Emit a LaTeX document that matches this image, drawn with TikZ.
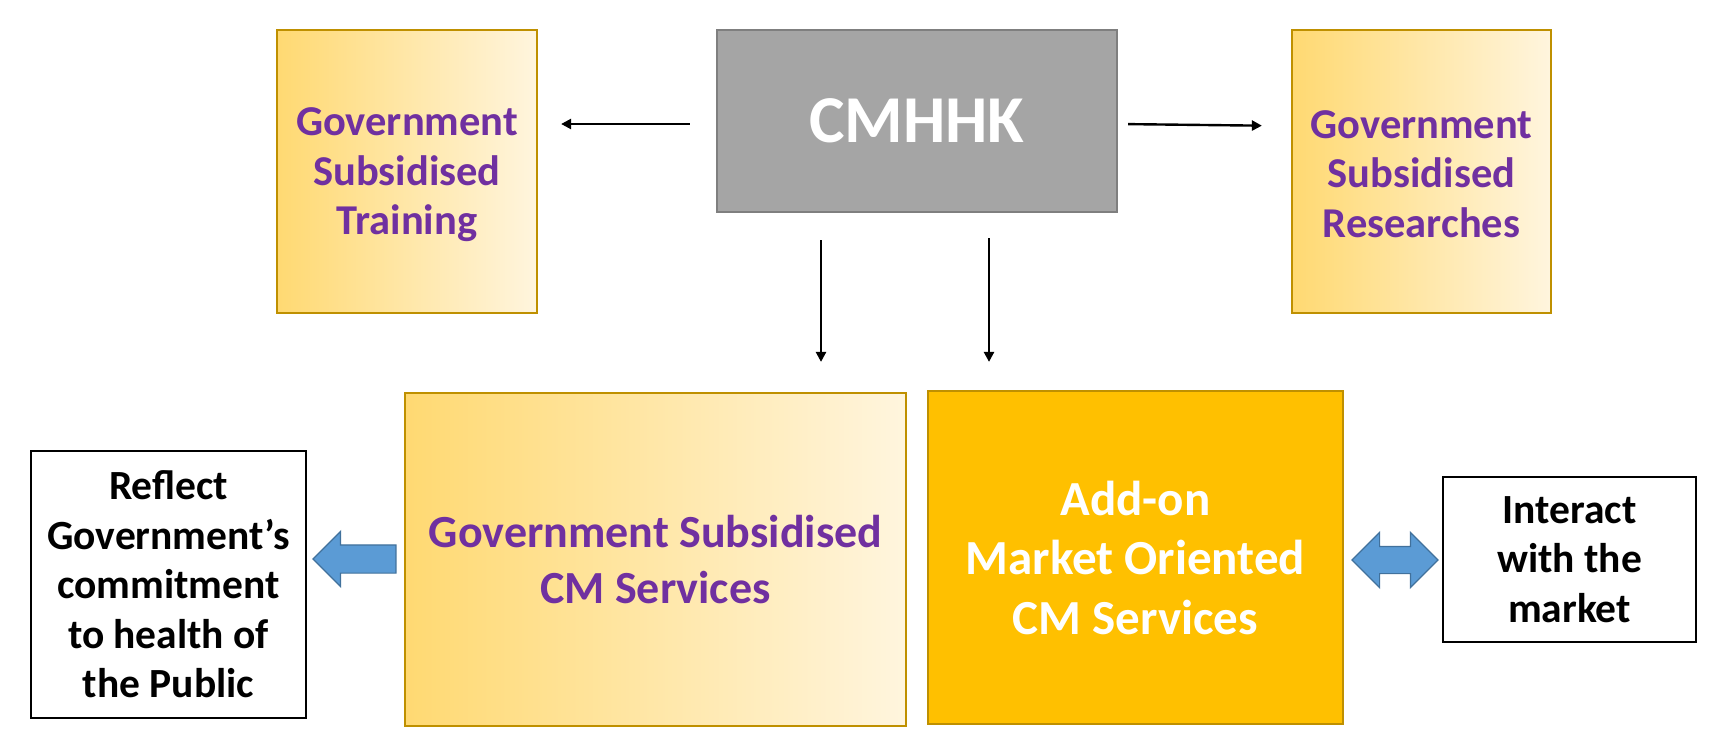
\documentclass[tikz,border=0pt]{standalone}
\usepackage{fontspec}
\setmainfont{Carlito}
\usetikzlibrary{arrows.meta,shapes.arrows}
\definecolor{purp}{HTML}{7030A0}
\definecolor{gradL}{HTML}{FFD972}
\definecolor{gradR}{HTML}{FFF5DE}
\definecolor{goldB}{HTML}{BF9000}
\definecolor{addon}{HTML}{FFC000}
\definecolor{grayF}{HTML}{A5A5A5}
\definecolor{grayB}{HTML}{7F7F7F}
\definecolor{blueF}{HTML}{5B9BD5}
\definecolor{blueB}{HTML}{41719C}
\tikzset{
  gradbox/.style={draw=goldB, line width=2.2pt, left color=gradL, right color=gradR,
    inner sep=0pt, align=center, text=purp, font=\bfseries\fontsize{42.5}{49.5}\selectfont},
  whitebox/.style={draw=black, line width=2.6pt, fill=white, inner sep=0pt, align=center,
    text=black, font=\bfseries\fontsize{41.5}{49.5}\selectfont},
  conn/.style={line width=2.4pt, -{Triangle[length=10pt,width=10pt]}},
  blockarr/.style={draw=blueB, fill=blueF, line width=1.2pt, inner sep=0pt}
}
\begin{document}
\begin{tikzpicture}[x=1pt,y=-1pt]
\useasboundingbox (0,0) rectangle (1728,753);
% top row
\node[draw=grayB, fill=grayF, line width=2.4pt, minimum width=400pt, minimum height=182pt,
  inner sep=0pt, text=white, font=\bfseries\fontsize{67}{80}\selectfont] (cm) at (917,121) {CMHHK};
\node[gradbox, minimum width=260pt, minimum height=283pt] (train) at (407,171.5) {};
\node[text=purp, align=center, font=\bfseries\fontsize{42.5}{49.5}\selectfont] (traint) at ([yshift=-3.5pt]train.center)
  {Government\\Subsidised\\Training};
\node[gradbox, minimum width=259pt, minimum height=283pt] (res) at (1421.5,171.5) {};
\node[text=purp, align=center, font=\bfseries\fontsize{42.5}{49.5}\selectfont] (rest) at ([yshift=-2.5pt]res.center)
  {Government\\Subsidised\\Researches};
% bottom row
\node[gradbox, minimum width=501pt, minimum height=333pt,
  font=\bfseries\fontsize{46}{56}\selectfont] (gcm) at (655.5,559.5)
  {Government Subsidised\\CM Services};
\node[draw=goldB, fill=addon, line width=2.2pt, minimum width=415pt, minimum height=333pt,
  inner sep=0pt, align=center, text=white, font=\bfseries\fontsize{49}{59.5}\selectfont] (add) at (1135.5,557.5)
  {Add-on\\Market Oriented\\CM Services};
\node[whitebox, minimum width=275pt, minimum height=267pt] (refl) at (168.5,584.5)
  {Reflect\\Government’s\\commitment\\to health of\\the Public};
\node[whitebox, minimum width=253pt, minimum height=165pt] (inter) at (1569.5,559.5)
  {Interact\\with the\\market};
% thin connectors
\draw[conn, shorten <=26pt, shorten >=23pt] (cm.west |- 0,124) -- (train.east |- 0,124);
\draw[conn, shorten <=10pt, shorten >=29pt] (cm.east |- 0,124) -- (res.west |- 0,126);
\draw[conn, shorten <=27pt, shorten >=30pt] (cm.south -| 821,0) -- (gcm.north -| 821,0);
\draw[conn, shorten <=25pt, shorten >=28pt] (cm.south -| 989,0) -- (add.north -| 989,0);
% block arrows
\node[blockarr, single arrow, shape border rotate=180, minimum height=83pt, minimum width=54pt,
  inner ysep=13.5pt, single arrow head extend=13.5pt] (la) at (361.5,559) {};
\node[blockarr, double arrow, minimum height=86pt, minimum width=54pt,
  inner ysep=13pt, double arrow head extend=14pt] (da) at (1395,560) {};
\end{tikzpicture}
\end{document}
